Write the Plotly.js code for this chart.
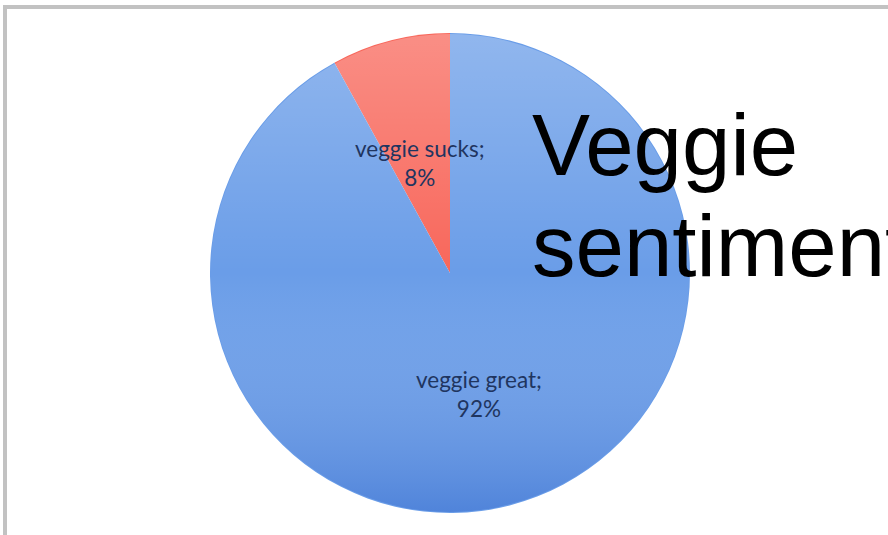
<!DOCTYPE html>
<html>
<head>
<meta charset="utf-8">
<script src="https://cdn.plot.ly/plotly-3.0.1.min.js"></script>
<style>html,body{margin:0;padding:0;background:#fff;}#chart{width:888px;height:535px;}</style>
</head>
<body>
<div id="chart"></div>
<script>
const categories = ["veggie sucks", "veggie great"];
const shares = [8, 92];
const sliceColors = ["#f8675b", "#6a9de8"];
const titleLines = ["Veggie", "sentiment"];

const W = 888, H = 535;
const px = x => x / W;
const py = y => 1 - y / H;

const gradSvg = "<svg xmlns='http://www.w3.org/2000/svg' width='480' height='480'>" +
  "<defs><linearGradient id='g' x1='0' y1='0' x2='0' y2='1'>" +
  "<stop offset='0' stop-color='#ffffff' stop-opacity='0.26'/>" +
  "<stop offset='0.5' stop-color='#ffffff' stop-opacity='0'/>" +
  "<stop offset='1' stop-color='#1f55c0' stop-opacity='0.35'/>" +
  "</linearGradient></defs><circle cx='240' cy='240' r='239' fill='url(#g)'/></svg>";

const total = shares.reduce((a, b) => a + b, 0);

const trace = {
  type: "pie",
  labels: categories,
  values: shares,
  sort: false,
  direction: "clockwise",
  rotation: -360 * shares[0] / total,
  marker: { colors: sliceColors, line: { width: 0 } },
  textinfo: "none",
  hoverinfo: "label+percent",
  showlegend: false,
  domain: { x: [px(210), px(690)], y: [py(513), py(33)] }
};

const labelFont = { family: "Lato, 'Open Sans', sans-serif", size: 22.5, color: "#1f3560" };

const annotations = [
  { text: categories[0] + ";<br>" + shares[0] + "%", x: px(420), y: py(163), xref: "paper", yref: "paper",
    showarrow: false, font: labelFont, align: "center", xanchor: "center", yanchor: "middle" },
  { text: categories[1] + ";<br>" + shares[1] + "%", x: px(479), y: py(394), xref: "paper", yref: "paper",
    showarrow: false, font: labelFont, align: "center", xanchor: "center", yanchor: "middle" },
  { text: titleLines[0], x: px(530), y: py(145), xref: "paper", yref: "paper", showarrow: false,
    font: { family: "'Liberation Sans', Arial, sans-serif", size: 87, color: "#000" },
    xanchor: "left", yanchor: "middle" },
  { text: titleLines[1], x: px(530), y: py(246), xref: "paper", yref: "paper", showarrow: false,
    font: { family: "'Liberation Sans', Arial, sans-serif", size: 87, color: "#000" },
    xanchor: "left", yanchor: "middle" }
];

const layout = {
  width: W, height: H,
  margin: { l: 0, r: 0, t: 0, b: 0 },
  paper_bgcolor: "#ffffff",
  showlegend: false,
  annotations: annotations,
  images: [{
    source: "data:image/svg+xml;utf8," + encodeURIComponent(gradSvg),
    xref: "paper", yref: "paper",
    x: px(210), y: py(33), sizex: px(690) - px(210), sizey: py(33) - py(513),
    xanchor: "left", yanchor: "top", sizing: "stretch", layer: "above"
  }],
  shapes: [
    { type: "line", xref: "paper", yref: "paper", x0: px(3), x1: 1.01, y0: py(7), y1: py(7),
      line: { color: "#c2c2c2", width: 4 } },
    { type: "line", xref: "paper", yref: "paper", x0: px(5), x1: px(5), y0: py(5), y1: -0.01,
      line: { color: "#c2c2c2", width: 4 } }
  ]
};

Plotly.newPlot("chart", [trace], layout, { displayModeBar: false, staticPlot: true });
</script>
</body>
</html>
